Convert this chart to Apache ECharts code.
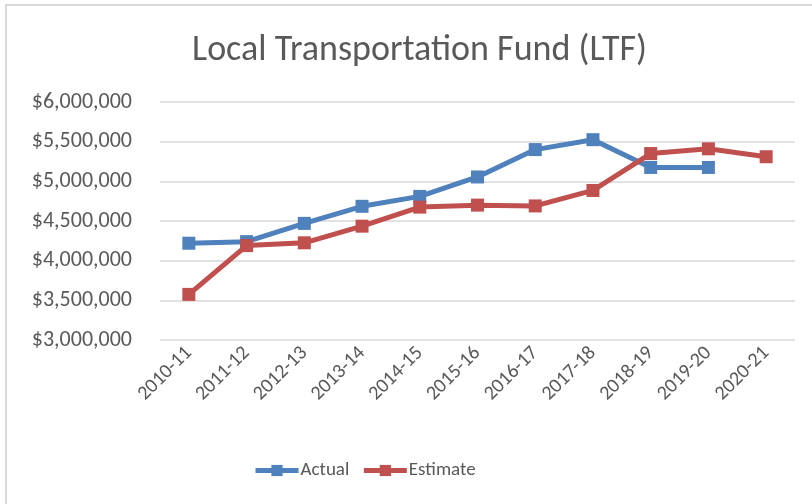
<!DOCTYPE html>
<html>
<head>
<meta charset="utf-8">
<script src="https://cdn.jsdelivr.net/npm/echarts@6/dist/echarts.min.js"></script>
<style>
html,body{margin:0;padding:0;background:#fff;}
#frame{position:absolute;left:5px;top:4px;width:807px;height:500px;border-top:2px solid #d9d9d9;border-left:2px solid #d9d9d9;}
#chart{position:absolute;left:0;top:0;width:812px;height:504px;}
</style>
</head>
<body>
<div id="frame"></div>
<div id="chart"></div>
<script>
// fiscal years
var years = ['2010-11','2011-12','2012-13','2013-14','2014-15','2015-16','2016-17','2017-18','2018-19','2019-20','2020-21'];
// actual receipts (no value yet for 2020-21)
var actual = [4220000,4240000,4470000,4685000,4810000,5055000,5400000,5525000,5175000,5175000,null];
// estimates
var estimate = [3575000,4190000,4225000,4435000,4675000,4700000,4690000,4885000,5350000,5410000,5310000];

var txt = '#595959';
var fnt = 'Calibri, Carlito, "Liberation Sans", "Open Sans", sans-serif';

function money(v){
	return '$' + String(v).replace(/\B(?=(\d{3})+(?!\d))/g, ',');
}

var myChart = echarts.init(document.getElementById('chart'));
var option = {
	animation: false,
	title: {
		text: 'Local Transportation Fund (LTF)',
		left: 187,
		top: 28,
		textStyle: {color: txt, fontSize: 36, fontWeight: 'normal', fontFamily: fnt}
	},
	legend: {
		bottom: 19,
		left: 248,
		itemWidth: 43,
		itemHeight: 14,
		itemGap: 12,
		lineStyle: {width: 5},
		textStyle: {color: txt, fontSize: 19, fontFamily: fnt, padding: [0, 0, 0, -3]},
		data: ['Actual','Estimate']
	},
	grid: {left: 160, right: 17, top: 102, bottom: 164},
	xAxis: {
		type: 'category',
		data: years,
		boundaryGap: true,
		axisLine: {show: false},
		axisTick: {show: false},
		axisLabel: {color: txt, fontSize: 20, fontFamily: fnt, rotate: 45, margin: 10}
	},
	yAxis: {
		type: 'value',
		min: 3000000,
		max: 6000000,
		interval: 500000,
		axisLine: {show: false},
		axisTick: {show: false},
		splitLine: {lineStyle: {color: '#d9d9d9', width: 1.5}},
		axisLabel: {color: txt, fontSize: 22, fontFamily: fnt, margin: 28, formatter: money}
	},
	series: [
		{
			name: 'Actual',
			type: 'line',
			data: actual,
			symbol: 'rect',
			symbolSize: 13,
			connectNulls: false,
			itemStyle: {color: '#4f81bd'},
			lineStyle: {width: 5, color: '#4f81bd'}
		},
		{
			name: 'Estimate',
			type: 'line',
			data: estimate,
			symbol: 'rect',
			symbolSize: 13,
			itemStyle: {color: '#c0504d'},
			lineStyle: {width: 5, color: '#c0504d'}
		}
	]
};
myChart.setOption(option);
</script>
</body>
</html>
